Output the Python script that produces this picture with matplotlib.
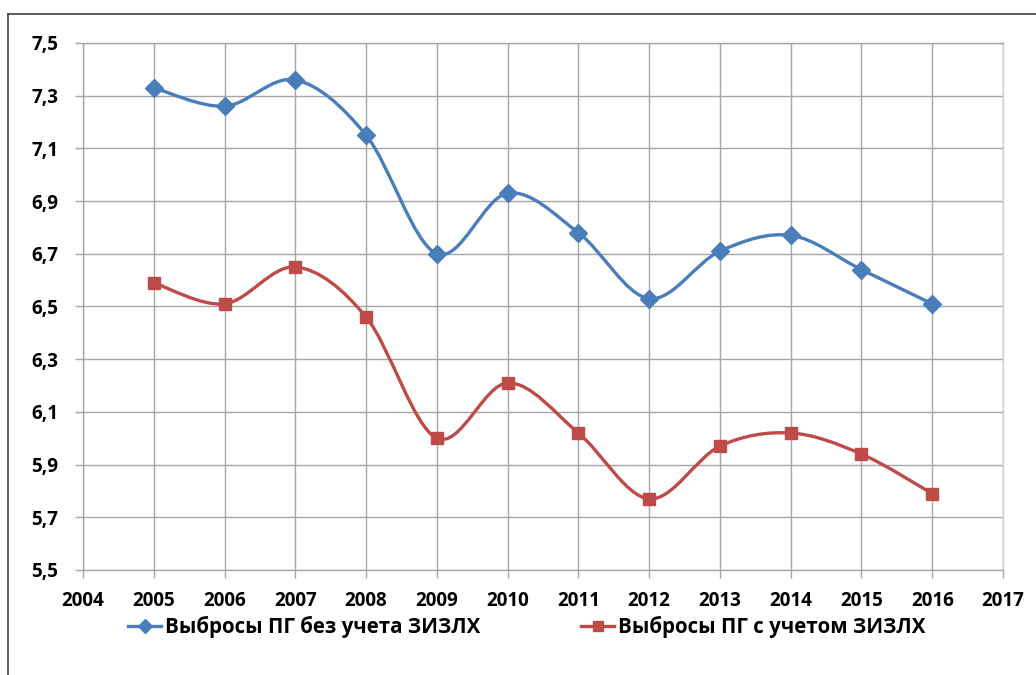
import numpy as np
import matplotlib
matplotlib.use("Agg")
import matplotlib.pyplot as plt
from matplotlib.path import Path
from matplotlib.patches import PathPatch
from matplotlib.lines import Line2D

plt.rcParams['font.family'] = ['Open Sans', 'DejaVu Sans']

# data
years = [2005, 2006, 2007, 2008, 2009, 2010, 2011, 2012, 2013, 2014, 2015, 2016]
without_lulucf = [7.33, 7.26, 7.36, 7.15, 6.70, 6.93, 6.78, 6.53, 6.71, 6.77, 6.64, 6.51]
with_lulucf = [6.59, 6.51, 6.65, 6.46, 6.00, 6.21, 6.02, 5.77, 5.97, 6.02, 5.94, 5.79]
labels = ["Выбросы ПГ без учета ЗИЗЛХ", "Выбросы ПГ с учетом ЗИЗЛХ"]
colors = ["#4A7EBB", "#BE4B48"]
markers = ["D", "s"]

def smooth_path(x, y):
    # Catmull-Rom style bezier, similar to Excel "smoothed line"
    p = np.column_stack([x, y]).astype(float)
    pts = np.vstack([p[0], p, p[-1]])
    verts = [p[0]]
    codes = [Path.MOVETO]
    for i in range(1, len(pts) - 2):
        p0, p1, p2, p3 = pts[i - 1], pts[i], pts[i + 1], pts[i + 2]
        c1 = p1 + (p2 - p0) / 6.0
        c2 = p2 - (p3 - p1) / 6.0
        verts += [c1, c2, p2]
        codes += [Path.CURVE4] * 3
    return Path(verts, codes)

fig = plt.figure(figsize=(10.36, 6.75), dpi=100)
ax = fig.add_axes([83 / 1036, 1 - 570 / 675, (1003 - 83) / 1036, (570 - 43) / 675])

for vals, c, m in zip([without_lulucf, with_lulucf], colors, markers):
    ax.add_patch(PathPatch(smooth_path(years, vals), facecolor="none", edgecolor=c,
                           lw=2.4, zorder=3, capstyle="round"))
    ax.plot(years, vals, linestyle="none", marker=m, color=c,
            markersize=9 if m == "D" else 8.5, zorder=4)

ax.set_xlim(2004, 2017)
ax.set_ylim(5.5, 7.5)
ax.set_xticks(range(2004, 2018))
yt = np.arange(5.5, 7.51, 0.2)
ax.set_yticks(yt)
ax.set_yticklabels([f"{v:.1f}".replace(".", ",") for v in yt])
ax.grid(True, color="#A6A6A6", lw=1.0)
ax.set_axisbelow(True)
for s in ax.spines.values():
    s.set_color("#A6A6A6")
    s.set_linewidth(1.0)
ax.spines["right"].set_color("#D0D0D0")
ax.tick_params(axis="both", color="#A6A6A6", length=6, width=1.0, direction="out",
               labelsize=13.5)
ax.tick_params(axis="y", pad=12)
ax.tick_params(axis="x", pad=9)
for t in ax.get_xticklabels() + ax.get_yticklabels():
    t.set_fontweight("bold")

# chart border (top and left visible)
fig.add_artist(Line2D([8 / 1036, 1.0], [1 - 14 / 675, 1 - 14 / 675],
                      transform=fig.transFigure, color="#404040", lw=1.2))
fig.add_artist(Line2D([8 / 1036, 8 / 1036], [0, 1 - 14 / 675],
                      transform=fig.transFigure, color="#404040", lw=1.2))

# legend
handles = [Line2D([], [], color=c, lw=2.4, marker=m, markersize=7) for c, m in zip(colors, markers)]
fig.legend(handles, labels, loc="center", bbox_to_anchor=(527 / 1036, 1 - 627 / 675), ncol=2,
           frameon=False, prop={"size": 14.8, "weight": "bold"}, handlelength=1.6,
           handletextpad=0.2, columnspacing=4.9)

fig.savefig("out.png", dpi=100)
